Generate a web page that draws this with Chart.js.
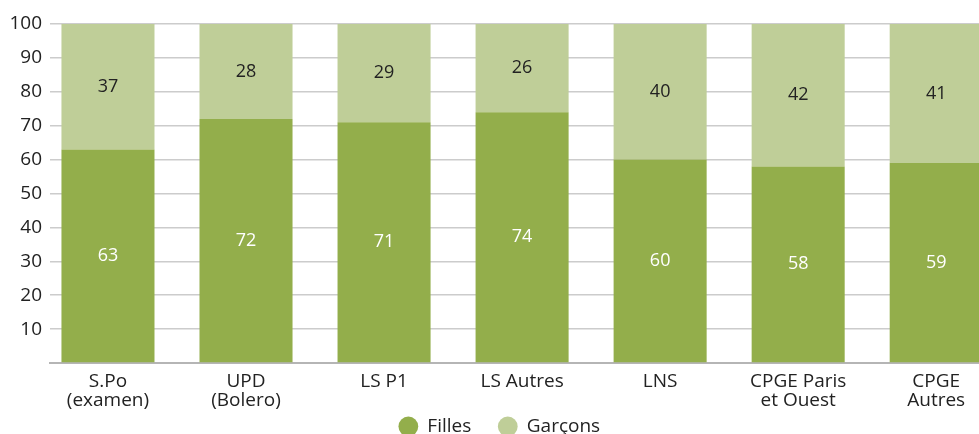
<!DOCTYPE html>
<html>
<head>
<meta charset="utf-8">
<script src="https://cdn.jsdelivr.net/npm/chart.js@4"></script>
<style>
  html, body { margin: 0; padding: 0; background: #fff; overflow: hidden; }
  #wrap { width: 979px; height: 434px; }
</style>
</head>
<body>
<div id="wrap"><canvas id="chart"></canvas></div>
<script>
const categories = [
  ['S.Po', '(examen)'],
  ['UPD', '(Bolero)'],
  'LS P1',
  'LS Autres',
  'LNS',
  ['CPGE Paris', 'et Ouest'],
  ['CPGE', 'Autres']
];
const filles = [63, 72, 71, 74, 60, 58, 59];
const garcons = [37, 28, 29, 26, 40, 42, 41];
const yTicks = [10, 20, 30, 40, 50, 60, 70, 80, 90, 100];

const FONT = "'Open Sans', sans-serif";

// points on a linear x axis so the first bar sits away from the y axis like the source
const toPoints = arr => arr.map((v, i) => ({x: i, y: v}));

// draws the value inside each bar segment
const barValues = {
  id: 'barValues',
  afterDatasetsDraw(chart) {
    const ctx = chart.ctx;
    ctx.save();
    ctx.font = '18px ' + FONT;
    ctx.textAlign = 'center';
    ctx.textBaseline = 'middle';
    chart.data.datasets.forEach((ds, di) => {
      const meta = chart.getDatasetMeta(di);
      ctx.fillStyle = di === 0 ? '#ffffff' : '#222222';
      meta.data.forEach((el, i) => {
        ctx.fillText(String(ds.data[i].y), el.x, (el.y + el.base) / 2);
      });
    });
    ctx.restore();
  }
};

// legend: wide spacing between items, small height, sitting at the very bottom
const legendFit = {
  id: 'legendFit',
  afterInit(chart) {
    const lg = chart.legend;
    const fit = lg.fit.bind(lg);
    lg.fit = function () { fit(); this.height = 25; };
  },
  afterLayout(chart) {
    const lg = chart.legend;
    lg.top = chart.height - 44;
    lg.bottom = chart.height;
    lg.left += 10;
    lg.right += 10;
  }
};

new Chart(document.getElementById('chart'), {
  type: 'bar',
  data: {
    datasets: [{
      label: 'Filles',
      data: toPoints(filles),
      backgroundColor: '#93ae4b',
      borderWidth: 0,
      barPercentage: 0.674,
      categoryPercentage: 1
    }, {
      label: 'Garçons',
      data: toPoints(garcons),
      backgroundColor: '#bfce98',
      borderWidth: 0,
      barPercentage: 0.674,
      categoryPercentage: 1
    }]
  },
  options: {
    responsive: true,
    maintainAspectRatio: false,
    animation: false,
    layout: { padding: { top: 24, right: 0, left: 0, bottom: 0 } },
    plugins: {
      tooltip: { enabled: false },
      legend: {
        position: 'bottom',
        labels: {
          usePointStyle: true,
          pointStyle: 'circle',
          boxWidth: 19,
          boxHeight: 14,
          padding: 27,
          color: '#222',
          font: { family: FONT, size: 19 }
        }
      }
    },
    scales: {
      x: {
        type: 'linear',
        offset: false,
        stacked: true,
        min: -0.42,
        max: 6.31,
        afterFit: s => { s.height = 46; },
        grid: { display: false },
        border: { display: true, color: '#b5b5b5', width: 2 },
        ticks: {
          stepSize: 1,
          includeBounds: false,
          autoSkip: false,
          maxRotation: 0,
          padding: 1,
          color: '#222',
          font: { family: FONT, size: 19, lineHeight: 1.0 },
          callback: v => Number.isInteger(v) && categories[v] !== undefined ? categories[v] : ''
        }
      },
      y: {
        stacked: true,
        min: 0,
        max: 100,
        afterFit: s => { s.width = 50; },
        afterBuildTicks: s => { s.ticks = [0].concat(yTicks).map(v => ({value: v})); },
        grid: { color: '#cccccc', lineWidth: 1.5, tickLength: 0 },
        border: { display: false },
        ticks: {
          padding: 8,
          color: '#222',
          font: { family: FONT, size: 19 },
          callback: v => v === 0 ? '' : v
        }
      }
    }
  },
  plugins: [barValues, legendFit]
});
</script>
</body>
</html>
